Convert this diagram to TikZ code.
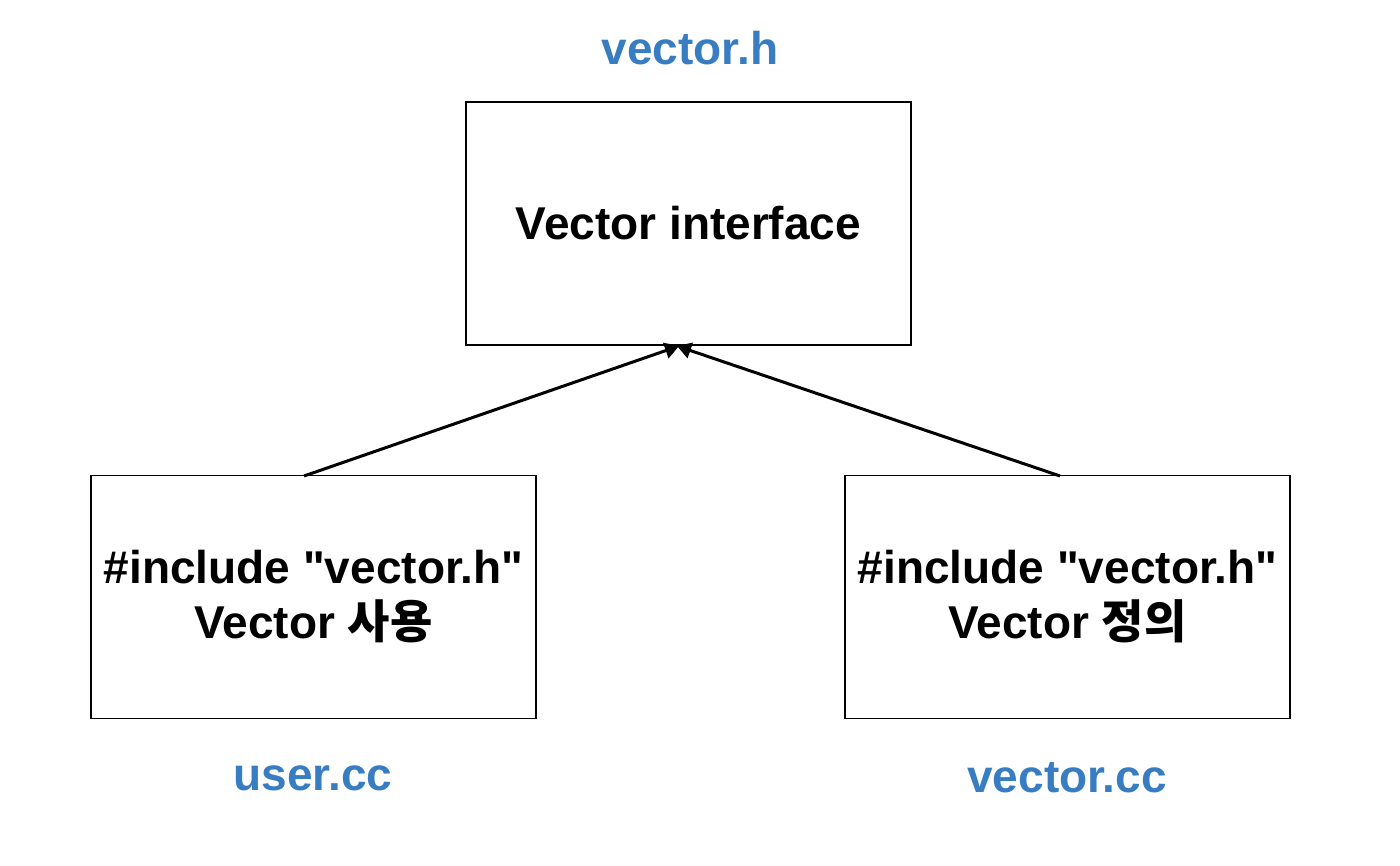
\documentclass[tikz,border=0pt]{standalone}
\usepackage{fontspec}
\newfontfamily\helv{Liberation Sans}
\newfontfamily\kr{Noto Sans CJK KR}
\usetikzlibrary{arrows.meta}
\definecolor{fileblue}{RGB}{56,125,193}
\tikzset{
  box/.style={draw=black, line width=1.5pt, minimum width=445pt, minimum height=243pt, align=center, font=\helv\fontsize{46}{55}\selectfont\bfseries, inner sep=0pt},
  fname/.style={text=fileblue, font=\helv\fontsize{46}{55}\selectfont\bfseries, inner sep=0pt},
  conn/.style={line width=3pt, -{Triangle[length=14pt,width=16pt]}, shorten >=0pt}
}
\begin{document}
\begin{tikzpicture}[x=1pt,y=-1pt]
\useasboundingbox (0,0) rectangle (1400,866);
\node[box] (T) at (688.5,223.5) {Vector interface};
\node[box] (L) at (313.5,597) {\#include "vector.h"\\Vector {\kr\bfseries 사용}};
\node[box] (R) at (1067.5,597) {\#include "vector.h"\\Vector {\kr\bfseries 정의}};
\node[fname] (th) at (690,48) {vector.h};
\node[fname] (lu) at (313,778) {user.cc};
\node[fname] (rv) at (1067,778) {vector.cc};
\coordinate (ls) at (304,476);
\coordinate (rs) at (1060,476);
\coordinate (lt) at (679,346);
\coordinate (rt) at (677,346);
\draw[conn] (ls) -- (lt);
\draw[conn] (rs) -- (rt);
\end{tikzpicture}
\end{document}
